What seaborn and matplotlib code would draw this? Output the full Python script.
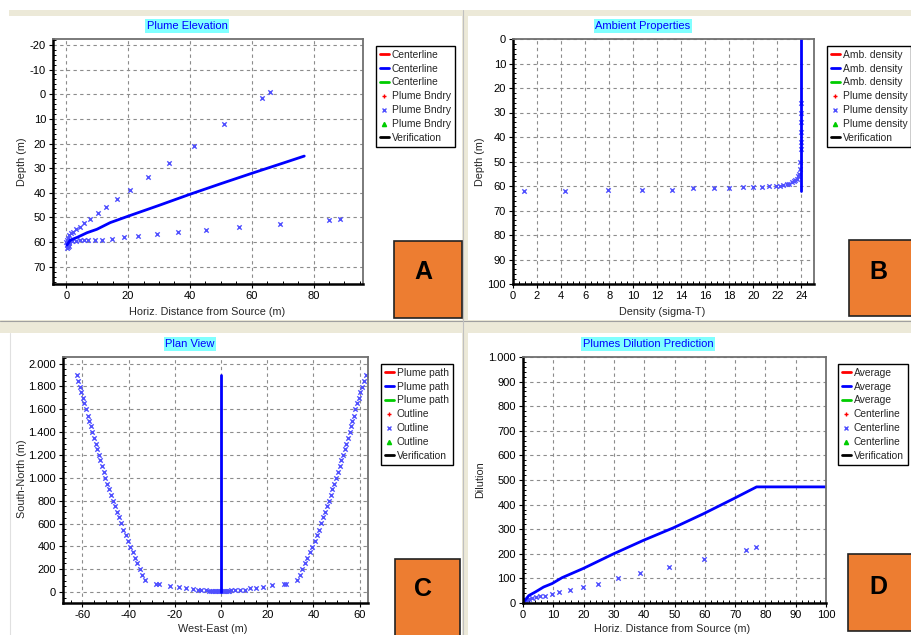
import numpy as np
import pandas as pd
import matplotlib
matplotlib.use("Agg")
import matplotlib.pyplot as plt
from matplotlib.lines import Line2D
from matplotlib.patches import Rectangle
from matplotlib.ticker import MultipleLocator, FuncFormatter
import seaborn as sns

sns.set_theme(style="white")
plt.rcParams['font.family'] = ['Liberation Sans', 'DejaVu Sans']
plt.rcParams['axes.unicode_minus'] = False

# ---------------- DATA ----------------
# Panel A: Plume Elevation
a_center_x = [0.2, 1.3, 3.5, 6.7, 9.9, 14.2, 20.2, 30.0, 40.0, 50.0, 60.0, 70.0, 77.0]
a_center_depth = [61.2, 59.2, 58.1, 56.2, 54.8, 52.1, 49.4, 45.1, 40.6, 36.3, 32.1, 28.0, 25.1]
a_upper_x = [0.8, 1.5, 2.2, 3.2, 4.3, 5.6, 7.6, 10.1, 12.9, 16.3, 20.7, 26.4, 33.1, 41.2, 51.0, 63.3, 65.8]
a_upper_depth = [57.1, 56.5, 55.8, 54.8, 53.7, 52.4, 50.6, 48.1, 45.8, 42.4, 38.9, 33.7, 28.0, 20.9, 12.2, 1.5, -0.9]
a_lower_x = [0.8, 1.8, 3.2, 4.5, 5.6, 6.9, 9.2, 11.5, 14.8, 18.6, 23.3, 29.2, 36.2, 45.1, 55.8, 69.0, 85.1, 88.6]
a_lower_depth = [59.4, 59.4, 59.4, 59.3, 59.3, 59.3, 59.0, 59.0, 58.6, 58.1, 57.7, 56.9, 56.0, 55.2, 54.0, 52.8, 51.2, 50.6]
a_source_x = [0.0, 0.3, 0.5, 0.2, 0.6, 1.0, 0.1, 0.4, 0.8]
a_source_depth = [60.0, 61.0, 62.0, 59.0, 58.5, 60.5, 62.5, 60.0, 61.5]

# Panel B: Ambient Properties
b_amb_density = [24.0, 24.0, 24.0, 24.0, 24.0]
b_amb_depth = [0.0, 20.0, 40.0, 55.0, 62.0]
b_plume_density = [0.9, 4.3, 7.9, 10.7, 13.2, 15.0, 16.7, 18.0, 19.1, 20.0, 20.7, 21.3, 21.9,
                   22.2, 22.5, 22.8, 23.0, 23.2, 23.4, 23.5, 23.6, 23.7, 23.8, 23.85, 23.9,
                   23.93, 23.95, 23.97, 23.98, 23.99, 24.0]
b_plume_depth = [62.0, 62.0, 61.5, 61.5, 61.5, 61.0, 61.0, 61.0, 60.5, 60.5, 60.3, 60.2, 60.0,
                 59.8, 59.6, 59.3, 59.0, 58.5, 58.0, 57.5, 57.0, 56.0, 55.0, 53.0, 50.0,
                 45.0, 42.0, 38.0, 34.0, 30.0, 26.0]

# Panel C: Plan View
c_path_x = [0.0, 0.0]
c_path_y = [0.0, 1900.0]
c_left_x = [-62.3, -61.8, -61.0, -60.5, -59.7, -59.3, -58.3, -57.6, -57.3, -56.3, -55.7, -55.1,
            -54.3, -53.7, -53.0, -52.2, -51.4, -50.6, -50.2, -49.4, -48.5, -47.6, -46.8, -45.9,
            -45.0, -44.2, -43.1, -42.3, -41.3, -40.4, -39.5, -38.2, -37.4, -36.4, -35.2, -34.1,
            -32.8, -28.0, -26.9, -22.2, -18.3, -15.0, -12.1, -10.0, -8.5, -6.4, -5.2]
c_left_y = [1904, 1851, 1799, 1755, 1700, 1656, 1603, 1545, 1501, 1451, 1405, 1352,
            1300, 1253, 1197, 1154, 1101, 1049, 1002, 949, 906, 853, 800, 751,
            701, 654, 602, 546, 503, 450, 395, 354, 301, 254, 202, 146,
            103, 73, 73, 56, 44, 38, 30, 21, 21, 15, 12]
c_mid_x = [-4.2, -3.5, -2.8, -2.1, -1.4, -0.7, 0.0, 0.7, 1.4, 2.1, 2.8, 3.5]
c_mid_y = [8, 8, 8, 8, 8, 8, 8, 8, 8, 8, 8, 8]
c_right_x = [4.5, 5.9, 8.1, 10.5, 12.4, 15.0, 18.2, 22.1, 27.1, 28.3, 33.0, 34.3, 35.2, 36.3,
             37.3, 38.3, 39.4, 40.5, 41.4, 42.4, 43.3, 44.1, 45.0, 45.9, 46.7, 47.4, 48.2, 49.0,
             49.9, 50.5, 51.3, 52.1, 52.8, 53.5, 54.2, 54.8, 55.7, 56.4, 56.8, 57.4, 58.1, 59.0,
             59.7, 60.3, 60.9, 61.7, 62.6]
c_right_y = [15, 15, 21, 21, 33, 38, 44, 59, 73, 73, 103, 146, 202, 254,
             301, 354, 395, 450, 503, 546, 602, 654, 701, 751, 800, 853, 906, 949,
             1002, 1049, 1101, 1154, 1197, 1253, 1300, 1352, 1405, 1451, 1501, 1545, 1603, 1656,
             1700, 1755, 1799, 1851, 1904]

# Panel D: Plumes Dilution Prediction
d_avg_x = [0.0, 0.2, 1.9, 4.1, 6.8, 9.6, 12.9, 20.0, 29.9, 39.8, 49.7, 59.6, 69.5, 77.1, 100.0]
d_avg_dil = [0, 4, 30, 45, 65, 79, 103, 141, 200, 255, 306, 363, 424, 472, 472]
d_cl_x = [0.8, 1.3, 1.9, 3.0, 4.3, 5.7, 7.1, 9.6, 12.0, 15.5, 19.7, 24.8, 31.2, 38.6, 48.2, 59.6, 73.6, 76.8]
d_cl_dil = [11, 14, 16, 20, 24, 27, 30, 38, 46, 54, 66, 79, 100, 121, 145, 179, 217, 228]

# Titles / labels
titles = ["Plume Elevation", "Ambient Properties", "Plan View", "Plumes Dilution Prediction"]
xlabels = ["Horiz. Distance from Source (m)", "Density (sigma-T)", "West-East (m)",
           "Horiz. Distance from Source (m)"]
ylabels = ["Depth (m)", "Depth (m)", "South-North (m)", "Dilution"]
legend_labels = [
    ["Centerline", "Centerline", "Centerline", "Plume Bndry", "Plume Bndry", "Plume Bndry", "Verification"],
    ["Amb. density", "Amb. density", "Amb. density", "Plume density", "Plume density", "Plume density", "Verification"],
    ["Plume path", "Plume path", "Plume path", "Outline", "Outline", "Outline", "Verification"],
    ["Average", "Average", "Average", "Centerline", "Centerline", "Centerline", "Verification"],
]
panel_letters = ["A", "B", "C", "D"]

# ---------------- FIGURE ----------------
W, H = 911, 635
fig = plt.figure(figsize=(W / 100, H / 100), dpi=100)
fig.patch.set_facecolor("white")
BEIGE = "#ECE9D8"
BLUE = "#0000FF"
MBLUE = "#5050FF"
ORANGE = "#ED7D31"
TICK_FS = 8
LABEL_FS = 7.8
LEG_FS = 7.4
MS = 10


def fx(p):
    return p / W


def fy(p):
    return 1 - p / H


def frect(l, t, r, b, **kw):
    rect = Rectangle((fx(l), fy(b)), fx(r) - fx(l), fy(t) - fy(b),
                     transform=fig.transFigure, **kw)
    fig.patches.append(rect)
    return rect


# background bands
frect(9, 10, 911, 16, facecolor=BEIGE, edgecolor="none", zorder=0)
frect(0, 320, 911, 333, facecolor=BEIGE, edgecolor="none", zorder=0)
frect(462, 10, 468, 635, facecolor=BEIGE, edgecolor="none", zorder=0)
fig.add_artist(Line2D([fx(0), fx(911)], [fy(320.5), fy(320.5)], color="#A0A0A0", lw=0.8))
fig.add_artist(Line2D([fx(462.5), fx(462.5)], [fy(10), fy(635)], color="#C0C0C0", lw=0.8))
fig.add_artist(Line2D([fx(10), fx(10)], [fy(333), fy(635)], color="#E0E0E0", lw=0.8))


def px_axes(l, t, r, b):
    return fig.add_axes([fx(l), fy(b), fx(r) - fx(l), fy(t) - fy(b)])


def style_axes(ax, xmaj, xmin, ymaj, ymin):
    ax.set_facecolor("white")
    ax.xaxis.set_major_locator(MultipleLocator(xmaj))
    ax.xaxis.set_minor_locator(MultipleLocator(xmin))
    ax.yaxis.set_major_locator(MultipleLocator(ymaj))
    ax.yaxis.set_minor_locator(MultipleLocator(ymin))
    ax.grid(True, which="major", color="#8C8C8C", linestyle=(0, (3, 3)), linewidth=0.8)
    ax.set_axisbelow(True)
    for s in ["left", "bottom"]:
        ax.spines[s].set_color("black")
        ax.spines[s].set_linewidth(1.8)
    for s in ["top", "right"]:
        ax.spines[s].set_color("#707070")
        ax.spines[s].set_linewidth(1.3)
    ax.tick_params(which="major", direction="out", length=3, width=0.8, colors="black",
                   labelsize=TICK_FS, pad=2, bottom=True, left=True)
    ax.tick_params(which="minor", direction="in", length=2.5, width=0.7, colors="black",
                   bottom=True, left=True)


def set_labels(ax, xl, yl, xpos, ypos):
    ax.set_xlabel(xl, fontsize=LABEL_FS)
    ax.set_ylabel(yl, fontsize=LABEL_FS)
    ax.xaxis.set_label_coords(fx(xpos[0]), fy(xpos[1]), transform=fig.transFigure)
    ax.yaxis.set_label_coords(fx(ypos[0]), fy(ypos[1]), transform=fig.transFigure)
    ax.xaxis.label.set_va("center")
    ax.yaxis.label.set_va("center")


def add_title(text, cx, cy):
    fig.text(fx(cx), fy(cy), text, ha="center", va="center", fontsize=8, color="#0000FF",
             bbox=dict(boxstyle="square,pad=0.15", facecolor="#80FFFF", edgecolor="none"))


def add_legend(ax, labels, left, top):
    handles = [
        Line2D([], [], color="red", lw=2),
        Line2D([], [], color="blue", lw=2),
        Line2D([], [], color="#00CC00", lw=2),
        Line2D([], [], color="red", marker="+", ms=3, lw=0, mew=1),
        Line2D([], [], color=MBLUE, marker="x", ms=3, lw=0, mew=1),
        Line2D([], [], color="#00CC00", marker="^", ms=3, lw=0),
        Line2D([], [], color="black", lw=2),
    ]
    leg = ax.legend(handles, labels, loc="upper left", bbox_to_anchor=(fx(left), fy(top)),
                    bbox_transform=fig.transFigure, fontsize=LEG_FS, frameon=True, fancybox=False,
                    handlelength=0.9, handletextpad=0.3, labelspacing=0.38, borderpad=0.35,
                    borderaxespad=0)
    fr = leg.get_frame()
    fr.set_edgecolor("black")
    fr.set_linewidth(1.0)
    fr.set_facecolor("white")
    fr.set_alpha(1)


def add_box(l, t, r, b, letter, cx, cy):
    frect(l, t, r, b, facecolor=ORANGE, edgecolor="#222222", linewidth=1.2, zorder=5)
    fig.text(fx(cx), fy(cy), letter, ha="center", va="center", fontsize=18,
             fontweight="bold", color="black", zorder=6)


# ---------- Panel A ----------
axA = px_axes(53, 39, 363, 284)
sns.lineplot(x=a_center_x, y=a_center_depth, ax=axA, color=BLUE, lw=2, estimator=None, sort=False)
sns.scatterplot(x=a_upper_x + a_lower_x + a_source_x,
                y=a_upper_depth + a_lower_depth + a_source_depth,
                ax=axA, marker="x", color=MBLUE, s=MS, linewidth=1)
axA.set_xlim(-4.3, 96)
axA.set_ylim(77, -22.4)
style_axes(axA, 20, 5, 10, 2)
set_labels(axA, xlabels[0], ylabels[0], (207, 312), (22, 162))
add_title(titles[0], 187, 26)
add_legend(axA, legend_labels[0], 376, 46)

# ---------- Panel B ----------
axB = px_axes(513, 39, 814, 284)
sns.lineplot(x=b_amb_density, y=b_amb_depth, ax=axB, color=BLUE, lw=2, estimator=None, sort=False)
sns.scatterplot(x=b_plume_density, y=b_plume_depth, ax=axB, marker="x", color=MBLUE, s=MS, linewidth=1)
axB.set_xlim(0, 25.05)
axB.set_ylim(100, 0)
style_axes(axB, 2, 0.5, 10, 2)
set_labels(axB, xlabels[1], ylabels[1], (662, 312), (480, 162))
add_title(titles[1], 643, 26)
add_legend(axB, legend_labels[1], 827, 46)

# ---------- Panel C ----------
thousands = FuncFormatter(lambda v, p: f"{int(round(v)):,}".replace(",", "."))
axC = px_axes(63, 357, 368, 603)
sns.lineplot(x=c_path_x, y=c_path_y, ax=axC, color=BLUE, lw=2, estimator=None, sort=False)
sns.scatterplot(x=c_left_x + c_mid_x + c_right_x, y=c_left_y + c_mid_y + c_right_y,
                ax=axC, marker="x", color=MBLUE, s=MS, linewidth=1)
axC.set_xlim(-68.4, 63.6)
axC.set_ylim(-96, 2058)
style_axes(axC, 20, 5, 200, 50)
axC.yaxis.set_major_formatter(thousands)
set_labels(axC, xlabels[2], ylabels[2], (213, 629), (22, 479))
add_title(titles[2], 190, 344)
add_legend(axC, legend_labels[2], 381, 364)

# ---------- Panel D ----------
axD = px_axes(523, 357, 826, 603)
sns.lineplot(x=d_avg_x, y=d_avg_dil, ax=axD, color=BLUE, lw=2, estimator=None, sort=False)
sns.scatterplot(x=d_cl_x, y=d_cl_dil, ax=axD, marker="x", color=MBLUE, s=MS, linewidth=1)
axD.set_xlim(0, 100)
axD.set_ylim(0, 1000)
style_axes(axD, 10, 2, 100, 20)
axD.yaxis.set_major_formatter(thousands)
set_labels(axD, xlabels[3], ylabels[3], (672, 629), (480, 480))
add_title(titles[3], 648, 344)
add_legend(axD, legend_labels[3], 838, 364)

# orange letter boxes
add_box(394, 241, 462, 318, panel_letters[0], 423, 272)
add_box(849, 240, 915, 316, panel_letters[1], 878, 272)
add_box(395, 559, 460, 640, panel_letters[2], 423, 589)
add_box(848, 554, 915, 631, panel_letters[3], 878, 587)

fig.savefig("out.png", dpi=100)
